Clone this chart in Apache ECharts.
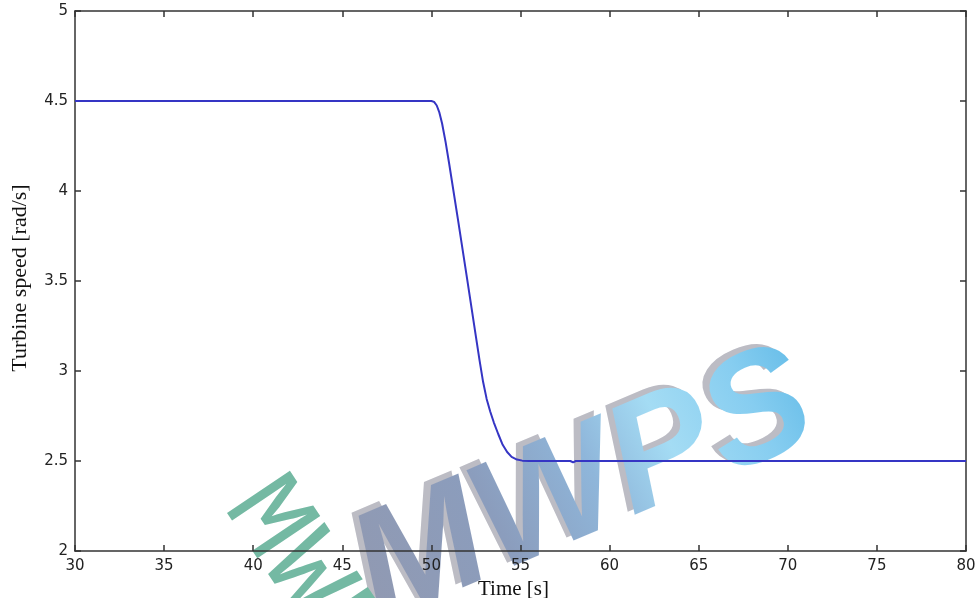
<!DOCTYPE html>
<html>
<head>
<meta charset="utf-8">
<script src="https://cdn.jsdelivr.net/npm/echarts@6/dist/echarts.min.js"></script>
<style>
  html, body { margin: 0; padding: 0; background: #fff; }
  #chart { width: 979px; height: 598px; background: #fff; }
</style>
</head>
<body>
<div id="chart"></div>
<script>
// Turbine speed response, time in seconds
const timeS = [30, 40, 50.0, 50.15, 50.3, 50.45, 50.6, 50.8, 51.0, 51.5, 52.0, 52.5, 52.7, 52.9, 53.1, 53.3, 53.5, 53.75, 54.0, 54.25, 54.5, 54.8, 55.1, 55.5, 57.8, 57.95, 58.1, 60, 70, 80];
const speed = [4.5, 4.5, 4.5, 4.495, 4.475, 4.435, 4.375, 4.27, 4.15, 3.835, 3.515, 3.19, 3.06, 2.94, 2.845, 2.775, 2.715, 2.65, 2.59, 2.55, 2.523, 2.508, 2.502, 2.5, 2.5, 2.492, 2.5, 2.5, 2.5, 2.5];

// Axis ranges and tick steps
const xRange = [30, 80];
const xStep = 5;
const yRange = [2, 5];
const yStep = 0.5;

const xTitle = 'Time [s]';
const yTitle = 'Turbine speed [rad/s]';
const stampText = 'MWPS';

const points = timeS.map((t, i) => [t, speed[i]]);

const chart = echarts.init(document.getElementById('chart'), null, { renderer: 'canvas' });

const axisColor = '#333';
const tickFont = { fontFamily: 'DejaVu Sans', fontSize: 15, color: '#222' };
const titleFont = { fontFamily: 'Liberation Serif', color: '#111' };

function frameAxis(base) {
  return Object.assign({
    type: 'value',
    axisLine: { show: true, onZero: false, lineStyle: { color: axisColor, width: 1.5 } },
    axisTick: { show: true, inside: true, length: 6, lineStyle: { color: axisColor, width: 1.5 } },
    splitLine: { show: false },
    minorTick: { show: false }
  }, base);
}

// The stamp sits on layers beneath the plot: a grey bevel copy on the lowest layer,
// and above it the letters drawn solid and then tinted by a gradient rectangle that
// is composited only onto the letter pixels.
const stampPos = { x: 392, y: 655, rotation: 0.4 };
const stampFont = 'italic bold 155px "Liberation Sans"';
const bevelLayer = -2;
const stampLayer = -1;

chart.setOption({
  animation: false,
  backgroundColor: 'transparent',
  grid: { left: 75, right: 13, top: 11, bottom: 47, containLabel: false, outerBoundsMode: 'none' },
  xAxis: [
    frameAxis({
      position: 'bottom', min: xRange[0], max: xRange[1], interval: xStep,
      axisLabel: Object.assign({ margin: 8 }, tickFont),
      name: xTitle, nameLocation: 'middle', nameGap: 26,
      nameTextStyle: Object.assign({ fontSize: 21, padding: [0, 14, 0, 0] }, titleFont)
    }),
    frameAxis({
      position: 'top', min: xRange[0], max: xRange[1], interval: xStep,
      axisLabel: { show: false }
    })
  ],
  yAxis: [
    frameAxis({
      position: 'left', min: yRange[0], max: yRange[1], interval: yStep,
      axisLabel: Object.assign({ margin: 7, formatter: v => String(v) }, tickFont),
      name: yTitle, nameLocation: 'middle', nameGap: 44,
      nameTextStyle: Object.assign({ fontSize: 22, padding: [0, 0, 0, 6] }, titleFont)
    }),
    frameAxis({
      position: 'right', min: yRange[0], max: yRange[1], interval: yStep,
      axisLabel: { show: false }
    })
  ],
  series: [{
    type: 'line',
    data: points,
    xAxisIndex: 0,
    yAxisIndex: 0,
    showSymbol: false,
    smooth: false,
    lineStyle: { color: '#3535c4', width: 2 },
    z: 3
  }],
  graphic: [
    {
      type: 'text', zlevel: bevelLayer, z: 1,
      x: stampPos.x - 7, y: stampPos.y - 3, rotation: stampPos.rotation,
      style: {
        text: stampText, font: stampFont, fill: '#bcbcc4',
        textAlign: 'left', textVerticalAlign: 'bottom'
      }
    },
    {
      type: 'text', zlevel: stampLayer, z: 1,
      x: stampPos.x, y: stampPos.y, rotation: stampPos.rotation,
      style: {
        text: stampText, font: stampFont, fill: '#000',
        textAlign: 'left', textVerticalAlign: 'bottom'
      }
    },
    {
      type: 'rect', zlevel: stampLayer, z: 2,
      x: stampPos.x, y: stampPos.y, rotation: stampPos.rotation,
      shape: { x: -20, y: -190, width: 540, height: 210 },
      style: {
        blend: 'source-atop',
        fill: new echarts.graphic.LinearGradient(0, 0.2, 1, 0, [
          { offset: 0, color: '#9199b1' },
          { offset: 0.3, color: '#8b9dbd' },
          { offset: 0.5, color: '#8fb6da' },
          { offset: 0.65, color: '#a4dcf4' },
          { offset: 0.82, color: '#86cdf0' },
          { offset: 1, color: '#55b4e4' }
        ])
      }
    },
    // thin green lettering running diagonally
    {
      type: 'text', zlevel: stampLayer, z: 4,
      x: 296, y: 458, rotation: -0.98,
      style: {
        text: stampText, font: '115px "Liberation Mono"',
        fill: '#74b9a3',
        textAlign: 'left', textVerticalAlign: 'top'
      }
    }
  ]
});
</script>
</body>
</html>
